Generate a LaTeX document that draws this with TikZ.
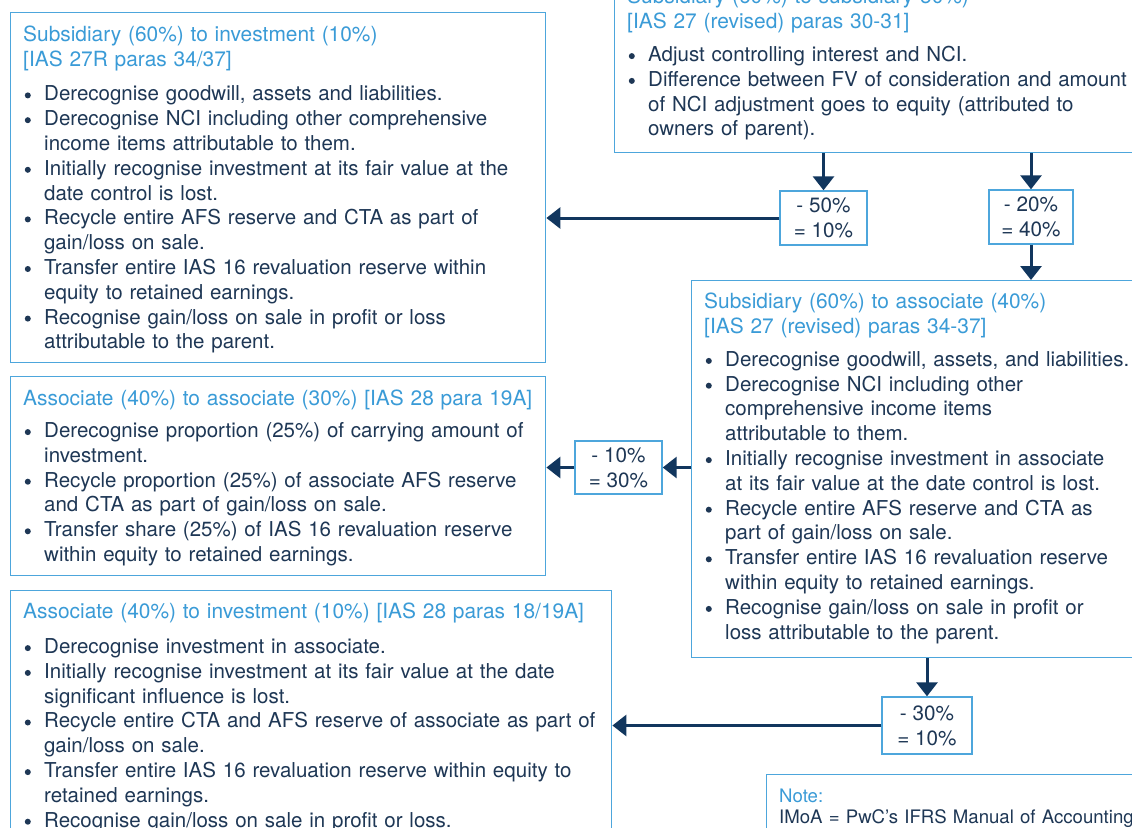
\documentclass[tikz,border=0pt]{standalone}
\usepackage{fontspec}
\setmainfont{TeX Gyre Heros}
\usetikzlibrary{positioning,arrows.meta}

\definecolor{ttlblue}{HTML}{3A9BD7}
\definecolor{frameblue}{HTML}{4DA6DC}
\definecolor{navy}{HTML}{1E3755}
\definecolor{arrnavy}{HTML}{11365E}

% bullet with hanging indent, title in blue
\newcommand{\dotmark}{\tikz[baseline=0pt]\fill[navy] (3.2pt,5.4pt) circle[radius=3pt];}
\newcommand{\bul}[1]{\noindent\hangindent=21pt\hangafter=1\makebox[21pt][l]{\hspace{1.6pt}\dotmark}#1\par}
\newcommand{\ttl}[2][7.7pt]{{\fontsize{20.9}{24.8}\selectfont\color{ttlblue}#2\par}\vspace{#1}}

\tikzset{
  frame/.style={draw=frameblue, line width=1.4pt, fill=white, anchor=north west, inner sep=0pt},
  txt/.style={anchor=base west, inner sep=0pt, text width=700pt, align=left, text=navy,
    font=\fontsize{20.5}{24.8}\selectfont},
  pct/.style={draw=frameblue, line width=1.4pt, fill=white, align=center, text=navy, inner sep=0pt,
    font=\fontsize{20.7}{24.8}\selectfont},
  arr/.style={draw=arrnavy, line width=3pt, -{Triangle[width=21pt,length=14pt]}},
}

\begin{document}
\begin{tikzpicture}[x=1pt,y=-1pt]
    \useasboundingbox (0,0) rectangle (1132,827);
    \clip (0,0) rectangle (1132,827);
    \fill[white] (0,0) rectangle (1132,827);

    % Frames
    \node[frame, minimum width=535pt, minimum height=350pt] (subinv) at (10,12) {};
    \node[frame, minimum width=600pt, minimum height=192pt] (subsub) at (614,-40) {};
    \node[frame, minimum width=500pt, minimum height=377pt] (subass) at (691,280) {};
    \node[frame, minimum width=535pt, minimum height=199pt] (assass) at (10,376) {};
    \node[frame, minimum width=601pt, minimum height=300pt] (assinv) at (10,590) {};
    \node[frame, minimum width=450pt, minimum height=100pt] (note) at (766,774) {};

    % Texts
    \node[txt] (subinv-t) at (23,41.5) {%
      \ttl[9.7pt]{Subsidiary (60\%) to investment (10\%)\newline [IAS 27R paras 34/37]}%
      \bul{Derecognise goodwill, assets and liabilities.}
      \bul{Derecognise NCI including other comprehensive\newline income items attributable to them.}
      \bul{Initially recognise investment at its fair value at the\newline date control is lost.}
      \bul{Recycle entire AFS reserve and CTA as part of\newline gain/loss on sale.}
      \bul{Transfer entire IAS 16 revaluation reserve within\newline equity to retained earnings.}
      \bul{Recognise gain/loss on sale in profit or loss\newline attributable to the parent.}};
    \node[txt] (subsub-t) at (627,3.7) {%
      \ttl[8.2pt]{Subsidiary (60\%) to subsidiary 50\%)\newline [IAS 27 (revised) paras 30-31]}%
      \bul{Adjust controlling interest and NCI.}
      \bul{Difference between FV of consideration and amount\newline of NCI adjustment goes to equity (attributed to\newline owners of parent).}};
    \node[txt] (subass-t) at (704,308.5) {%
      \ttl[8.2pt]{Subsidiary (60\%) to associate (40\%)\newline [IAS 27 (revised) paras 34-37]}%
      \bul{Derecognise goodwill, assets, and liabilities.}
      \bul{Derecognise NCI including other\newline comprehensive income items\newline attributable to them.}
      \bul{Initially recognise investment in associate\newline at its fair value at the date control is lost.}
      \bul{Recycle entire AFS reserve and CTA as\newline part of gain/loss on sale.}
      \bul{Transfer entire IAS 16 revaluation reserve\newline within equity to retained earnings.}
      \bul{Recognise gain/loss on sale in profit or\newline loss attributable to the parent.}};
    \node[txt] (assass-t) at (23,405.5) {%
      \ttl[7.2pt]{Associate (40\%) to associate (30\%) [IAS 28 para 19A]}%
      \bul{Derecognise proportion (25\%) of carrying amount of\newline investment.}
      \bul{Recycle proportion (25\%) of associate AFS reserve\newline and CTA as part of gain/loss on sale.}
      \bul{Transfer share (25\%) of IAS 16 revaluation reserve\newline within equity to retained earnings.}};
    \node[txt] (assinv-t) at (23,618.5) {%
      \ttl[10.2pt]{Associate (40\%) to investment (10\%) [IAS 28 paras 18/19A]}%
      \bul{Derecognise investment in associate.}
      \bul{Initially recognise investment at its fair value at the date\newline significant influence is lost.}
      \bul{Recycle entire CTA and AFS reserve of associate as part of\newline gain/loss on sale.}
      \bul{Transfer entire IAS 16 revaluation reserve within equity to\newline retained earnings.}
      \bul{Recognise gain/loss on sale in profit or loss.}};
    \node[txt, font=\fontsize{18.6}{21}\selectfont] (note-t) at (779,802) {%
      {\color{ttlblue}Note:}\newline IMoA = PwC’s IFRS Manual of Accounting};

    % Percentage steps
    \node[pct, minimum width=87pt, minimum height=54pt] (m50) at (823.5,218) {- 50\%\\= 10\%};
    \node[pct, minimum width=84pt, minimum height=54pt] (m20) at (1031,217) {- 20\%\\= 40\%};
    \node[pct, minimum width=87pt, minimum height=53pt] (m10) at (618.5,467.5) {- 10\%\\= 30\%};
    \node[pct, minimum width=90pt, minimum height=57pt] (m30) at (927,725.5) {- 30\%\\= 10\%};

    % Connectors
    \draw[arr] (m50 |- subsub.south) -- (m50.north);
    \draw[arr] (m20 |- subsub.south) -- (m20.north);
    \draw[arr] (m20.south) -- (m20 |- subass.north);
    \draw[arr] (m50.west) -- (m50 -| subinv.east);
    \draw[arr] (m10 -| subass.west) -- (m10.east);
    \draw[arr] (m10.west) -- (m10 -| assass.east);
    \draw[arr] (m30 |- subass.south) -- (m30.north);
    \draw[arr] (m30.west) -- (m30 -| assinv.east);
\end{tikzpicture}
\end{document}
